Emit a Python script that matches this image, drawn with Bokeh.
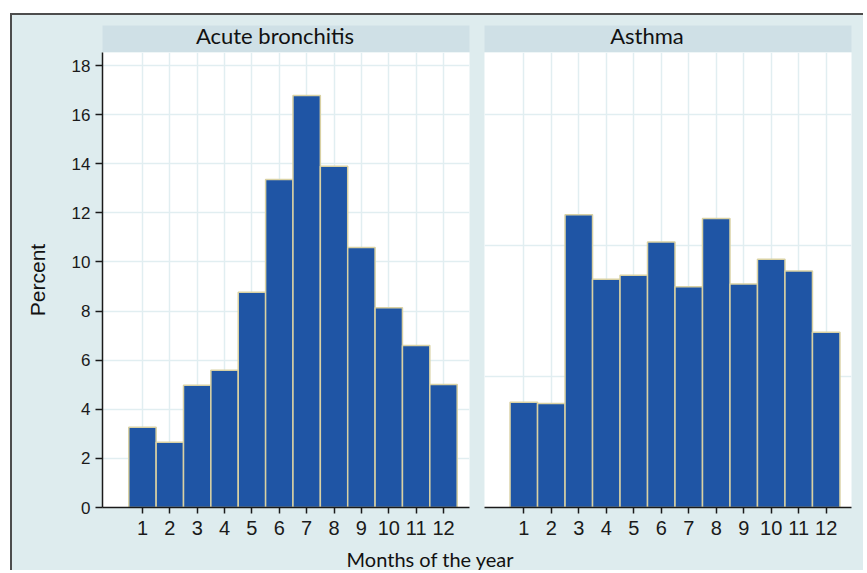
from bokeh.plotting import figure
from bokeh.models import Range1d, FixedTicker, Label
from bokeh.layouts import row, column
from bokeh.embed import file_html
from bokeh.resources import INLINE

# ---------------- data ----------------
months = [1, 2, 3, 4, 5, 6, 7, 8, 9, 10, 11, 12]
bronchitis_pct = [3.27, 2.66, 4.98, 5.59, 8.77, 13.36, 16.78, 13.90, 10.59, 8.13, 6.60, 5.01]
asthma_pct = [4.29, 4.24, 11.92, 9.30, 9.46, 10.81, 8.99, 11.77, 9.10, 10.11, 9.63, 7.14]
y_ticks = [0, 2, 4, 6, 8, 10, 12, 14, 16, 18]
asthma_grid_ticks = [5.33, 10.67, 16.0]
panel_titles = ["Acute bronchitis", "Asthma"]
x_title = "Months of the year"
y_title = "Percent"

# ---------------- style ----------------
BG = "#deecee"
HEADER = "#cfe0e6"
GRID = "#e1eef1"
BAR = "#1f55a5"
EDGE = "#d9d1a3"
AXIS = "#1a1a1a"
Y_END = 18.53
TICK_FONT = "Liberation Sans"


def make_header(title, width, mbl, mbr, title_offset):
    h = figure(width=width, height=37, x_range=Range1d(0, 1), y_range=Range1d(0, 1),
               output_backend="svg", toolbar_location=None,
               x_axis_location=None, y_axis_location=None,
               min_border_left=mbl, min_border_right=mbr,
               min_border_top=10, min_border_bottom=0,
               background_fill_color=HEADER, border_fill_color=BG,
               outline_line_color=None)
    h.grid.visible = False
    h.add_layout(Label(x=0.5, y=0.5, x_offset=title_offset, y_offset=4, text=title,
                       text_align="center", text_baseline="middle",
                       text_font="Lato", text_font_size="22px",
                       text_color="#111111"))
    return h


def make_panel(vals, xr, width, mbl, mbr, show_y, grid_ticks):
    p = figure(width=width, height=488,
               x_range=Range1d(*xr), y_range=Range1d(0, Y_END),
               output_backend="svg", toolbar_location=None,
               min_border_left=mbl, min_border_right=mbr,
               min_border_top=0, min_border_bottom=33,
               background_fill_color="white", border_fill_color=BG,
               outline_line_color=None)
    p.vbar(x=months, top=vals, width=1, bottom=0,
           fill_color=BAR, line_color=EDGE, line_width=1.5)

    ax = p.xaxis[0]
    ax.ticker = FixedTicker(ticks=months)
    ax.minor_tick_line_color = None
    ax.major_tick_in = 0
    ax.major_tick_out = 6
    ax.major_tick_line_width = 1.5
    ax.major_tick_line_color = AXIS
    ax.axis_line_width = 1.5
    ax.axis_line_color = AXIS
    ax.major_label_text_font = TICK_FONT
    ax.major_label_text_font_size = "20px"
    ax.major_label_text_color = "#1a1a1a"
    ax.major_label_standoff = 7

    p.xgrid.ticker = FixedTicker(ticks=months)
    p.ygrid.ticker = FixedTicker(ticks=grid_ticks)
    p.grid.grid_line_color = GRID
    p.grid.grid_line_width = 1.5

    ay = p.yaxis[0]
    if show_y:
        ay.ticker = FixedTicker(ticks=y_ticks)
        ay.minor_tick_line_color = None
        ay.major_tick_in = 0
        ay.major_tick_out = 7
        ay.major_tick_line_width = 1.5
        ay.major_tick_line_color = AXIS
        ay.axis_line_width = 1.5
        ay.axis_line_color = AXIS
        ay.major_label_text_font = TICK_FONT
        ay.major_label_text_font_size = "17px"
        ay.major_label_text_color = "#1a1a1a"
        ay.major_label_standoff = 5
        ay.axis_label = y_title
        ay.axis_label_text_font = TICK_FONT
        ay.axis_label_text_font_size = "21px"
        ay.axis_label_text_font_style = "normal"
        ay.axis_label_text_color = "#111111"
        ay.axis_label_standoff = 20
    else:
        ay.visible = False
    return p


h1 = make_header(panel_titles[0], 464, 90, 7, -11)
h2 = make_header(panel_titles[1], 387, 8, 12, -21)
p1 = make_panel(bronchitis_pct, (-0.46, 12.95), 464, 90, 7, True, y_ticks)
p2 = make_panel(asthma_pct, (-0.43, 12.92), 387, 8, 12, False, asthma_grid_ticks)

pl = figure(width=851, height=30, x_range=Range1d(0, 851), y_range=Range1d(0, 30),
            output_backend="svg", toolbar_location=None,
            x_axis_location=None, y_axis_location=None,
            min_border=0, outline_line_color=None,
            background_fill_color=BG, border_fill_color=BG)
pl.grid.visible = False
pl.add_layout(Label(x=418, y=12, text=x_title, text_align="center",
                    text_baseline="middle", text_font="Lato",
                    text_font_size="20px", text_color="#111111"))

layout = column(row(h1, h2), row(p1, p2), pl, margin=(13, 0, 0, 10),
                styles={"border-left": "2px solid #4d4d4d",
                        "border-top": "2px solid #4d4d4d",
                        "background-color": BG})

open("out.html", "w").write(file_html(layout, INLINE))
